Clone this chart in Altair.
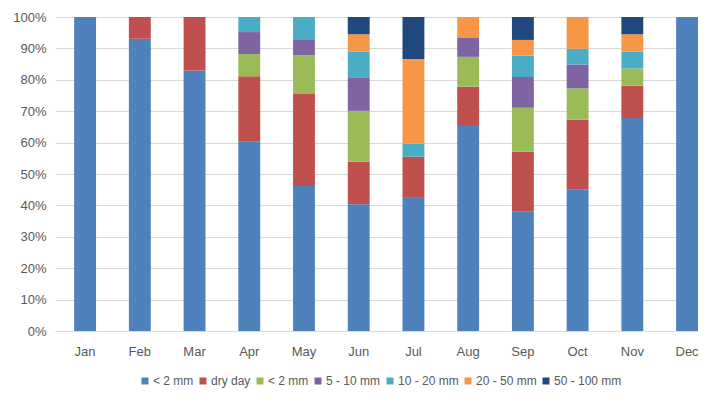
import json
import altair as alt
import pandas as pd

months = ["Jan", "Feb", "Mar", "Apr", "May", "Jun", "Jul", "Aug", "Sep", "Oct", "Nov", "Dec"]
series_keys = ["s1", "s2", "s3", "s4", "s5", "s6", "s7"]
series_labels = ["< 2 mm", "dry day", "< 2 mm", "5 - 10 mm", "10 - 20 mm", "20 - 50 mm", "50 - 100 mm"]
series_colors = ["#4F81BD", "#C0504D", "#9BBB59", "#8064A2", "#4BACC6", "#F79646", "#1F497D"]
y_ticks = [0, 0.1, 0.2, 0.3, 0.4, 0.5, 0.6, 0.7, 0.8, 0.9, 1.0]

s1 = [100, 93.1, 83.0, 60.3, 46.2, 40.4, 42.4, 65.3, 38.0, 45.0, 67.8, 100]
s2 = [0, 6.9, 17.0, 20.8, 29.3, 13.5, 13.1, 12.5, 19.1, 22.3, 10.3, 0]
s3 = [0, 0, 0, 7.1, 12.3, 16.2, 0, 9.5, 14.0, 10.0, 5.5, 0]
s4 = [0, 0, 0, 7.0, 4.9, 10.7, 0, 6.2, 9.8, 7.6, 0, 0]
s5 = [0, 0, 0, 4.8, 7.3, 8.2, 4.1, 0, 6.8, 5.0, 5.4, 0]
s6 = [0, 0, 0, 0, 0, 5.5, 27.0, 6.5, 5.0, 10.1, 5.5, 0]
s7 = [0, 0, 0, 0, 0, 5.5, 13.4, 0, 7.3, 0, 5.5, 0]
series_values = [s1, s2, s3, s4, s5, s6, s7]

rows = []
for idx, (key, vals) in enumerate(zip(series_keys, series_values)):
    for m, v in zip(months, vals):
        rows.append({"month": m, "series": key, "idx": idx, "value": v})
df = pd.DataFrame(rows)

label_map = json.dumps(dict(zip(series_keys, series_labels)))

FONT = "Liberation Sans"
TXT = "#595959"

chart = alt.Chart(df).mark_bar().encode(
    x=alt.X("month:N", sort=months, title=None,
            scale=alt.Scale(paddingInner=0.6, paddingOuter=0.175, align=1),
            axis=alt.Axis(labelAngle=0, ticks=False, domain=True, domainColor="#D9D9D9",
                          labelPadding=14, labelFontSize=13, labelColor=TXT, labelFont=FONT)),
    y=alt.Y("value:Q", stack="normalize", title=None,
            scale=alt.Scale(domain=[0, 1]),
            axis=alt.Axis(format=".0%", values=y_ticks, labelOverlap=False,
                          ticks=False, domain=False, labelPadding=9,
                          gridColor="#D9D9D9", gridWidth=1,
                          labelFontSize=13, labelColor=TXT, labelFont=FONT)),
    color=alt.Color("series:N", title=None,
                    scale=alt.Scale(domain=series_keys, range=series_colors),
                    legend=alt.Legend(orient="none", legendX=84, legendY=358, direction="horizontal",
                                      labelExpr=f"({label_map})[datum.value]",
                                      symbolType="square", symbolSize=49, symbolStrokeWidth=0,
                                      labelFontSize=12, labelColor=TXT, labelFont=FONT,
                                      labelOffset=2, columnPadding=3, padding=0)),
    order=alt.Order("idx:Q", sort="ascending"),
).properties(
    width=643, height=314,
    padding={"left": 47, "top": 9, "right": 0, "bottom": 67},
    autosize=alt.AutoSizeParams(type="none"),
).configure_view(stroke=None)

chart.save("out.html", embed_options={"renderer": "svg", "actions": False})
